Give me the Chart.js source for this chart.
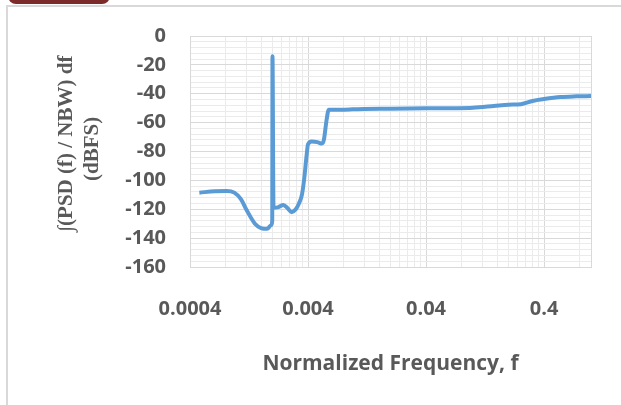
<!DOCTYPE html>
<html>
<head>
<meta charset="utf-8">
<script src="https://cdn.jsdelivr.net/npm/chart.js@4"></script>
<style>
  html, body { margin: 0; padding: 0; background: #fff; }
  #wrap { position: relative; width: 621px; height: 405px; overflow: hidden; }
  #frame { position: absolute; left: 6px; top: 5px; right: -2px; bottom: -2px;
           border-left: 2px solid #d9d9d9; border-top: 2px solid #d9d9d9; }
  #tab { position: absolute; left: 8px; top: -6px; width: 102px; height: 10px;
         background: #7d2a2a; border-radius: 0 0 8px 8px; }
  canvas { position: absolute; left: 0; top: 0; }
</style>
</head>
<body>
<div id="wrap">
  <div id="frame"></div>
  <div id="tab"></div>
  <canvas id="psdChart" width="621" height="405"></canvas>
</div>
<script>
// Data (normalized frequency vs integrated PSD, dBFS)
const freq = [0.00048, 0.00065, 0.00082, 0.00095, 0.00108, 0.00121, 0.00142, 0.0016, 0.0018, 0.00195,
              0.00199, 0.002, 0.00204, 0.00225, 0.00247, 0.0027, 0.0029, 0.00315, 0.00335, 0.00355,
              0.0037, 0.0039, 0.004, 0.0043, 0.0048, 0.00525, 0.00545, 0.00575, 0.006, 0.0075,
              0.0095, 0.012, 0.02, 0.04, 0.07, 0.1, 0.15, 0.2, 0.255, 0.32,
              0.4, 0.55, 0.75, 1.0];
const psd = [-108.5, -107.5, -107.3, -108.5, -113, -120.7, -130, -133, -133.5, -131,
             -128, -14, -119, -118.5, -117, -119.5, -122, -120, -116, -110,
             -100, -82, -75, -73, -73.5, -74.5, -72, -58, -51, -51,
             -50.8, -50.5, -50.4, -50.1, -50, -49.7, -48.5, -47.6, -47.2, -45,
             -43.7, -42.3, -41.8, -41.6];

// Axis ticks
const xLabels = [0.0004, 0.004, 0.04, 0.4];
const xMultiples = [1, 2, 3, 4, 5, 6, 7, 8, 9];
const yMin = -160, yMax = 0, yMinorStep = 4, yLabelStep = 20;

const textColor = '#595959';
const majorGrid = '#d9d9d9';
const minorGrid = '#ebebeb';
const sansFont = "'Open Sans', 'Liberation Sans', sans-serif";
const serifFont = "'Liberation Serif', 'DejaVu Serif', serif";

function findLabel(v) {
    return xLabels.find(l => Math.abs(v - l) / l < 1e-6);
}

// gridline values: 0.0004 * k * 10^n, plus the right edge
const xGrid = [];
xLabels.forEach(base => {
    xMultiples.forEach(k => {
        const v = base * k;
        if (v <= 1.0 + 1e-9) xGrid.push(v);
    });
});
xGrid.push(1.0);

new Chart(document.getElementById('psdChart'), {
    type: 'line',
    data: {
        datasets: [{
            data: freq.map((f, i) => ({ x: f, y: psd[i] })),
            borderColor: '#5b9bd5',
            borderWidth: 4,
            pointRadius: 0,
            cubicInterpolationMode: 'monotone',
            fill: false
        }]
    },
    options: {
        responsive: false,
        animation: false,
        layout: { padding: { top: 35, right: 30, left: 0, bottom: 0 } },
        plugins: { legend: { display: false }, tooltip: { enabled: false } },
        scales: {
            x: {
                type: 'logarithmic',
                min: 0.0004,
                max: 1.0,
                afterBuildTicks: scale => {
                    scale.ticks = xGrid.map(v => ({ value: v }));
                },
                afterFit: scale => { scale.height = 138; },
                ticks: {
                    autoSkip: false,
                    maxRotation: 0,
                    padding: 30,
                    color: textColor,
                    font: { family: sansFont, size: 20, weight: 700 },
                    callback: v => findLabel(v) !== undefined ? String(findLabel(v)) : ''
                },
                grid: {
                    drawTicks: false,
                    lineWidth: 1,
                    color: ctx => (ctx.tick && (findLabel(ctx.tick.value) !== undefined || ctx.tick.value === 1.0)) ? majorGrid : minorGrid
                },
                border: { color: majorGrid },
                title: {
                    display: true,
                    text: 'Normalized Frequency, f',
                    color: textColor,
                    font: { family: sansFont, size: 21, weight: 700 },
                    padding: { top: 0, bottom: 28 }
                }
            },
            y: {
                min: yMin,
                max: yMax,
                afterFit: scale => { scale.width = 190; },
                ticks: {
                    stepSize: yMinorStep,
                    autoSkip: false,
                    padding: 24,
                    color: textColor,
                    font: { family: sansFont, size: 20, weight: 700 },
                    callback: v => (v % yLabelStep === 0) ? String(v) : ''
                },
                grid: {
                    drawTicks: false,
                    lineWidth: 1,
                    color: ctx => (ctx.tick && ctx.tick.value % yLabelStep === 0) ? majorGrid : minorGrid
                },
                border: { color: majorGrid },
                title: {
                    display: true,
                    text: ['   \u222B(PSD (f) / NBW) df', ' (dBFS)'],
                    color: textColor,
                    font: { family: serifFont, size: 21, weight: 700, lineHeight: 1.25 },
                    padding: { top: 53, bottom: 0 }
                }
            }
        }
    }
});
</script>
</body>
</html>
